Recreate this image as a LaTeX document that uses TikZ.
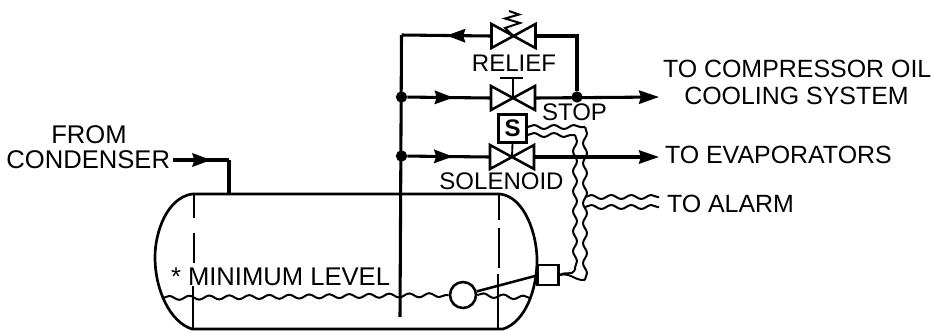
\documentclass[tikz,border=0pt]{standalone}
\usepackage{fontspec}
\setmainfont{Liberation Sans}
\usetikzlibrary{arrows.meta,decorations.pathmorphing,decorations.markings}
\tikzset{
  pipe/.style={line width=2.3pt,black},
  shell/.style={line width=2pt,black},
  thin line/.style={line width=1.4pt,black},
  wire/.style={line width=1.5pt,black,decorate,decoration={snake,segment length=15pt,amplitude=1.5pt,pre length=0pt,post length=0pt}},
  valvebox/.style={minimum width=33pt,minimum height=18pt,inner sep=0pt,outer sep=0pt},
  label/.style={inner sep=0pt,outer sep=0pt,font=\fontsize{18.7pt}{18.7pt}\selectfont},
  smalllabel/.style={inner sep=0pt,outer sep=0pt,font=\fontsize{18pt}{18pt}\selectfont},
  widelabel/.style={inner sep=0pt,outer sep=0pt,font=\fontsize{19.2pt}{19.2pt}\selectfont},
  bigtip/.style={-{Stealth[length=15pt,width=10pt,inset=1.5pt]}},
  midtip/.style={postaction={decorate},decoration={markings,mark=at position #1 with {\arrow{Stealth[length=14pt,width=10pt,inset=1.5pt]}}}},
  junction/.style={circle,fill=black,inner sep=0pt,minimum size=8.5pt},
}
\newcommand{\valveshape}[1]{\draw[line width=1.9pt,line join=miter] (#1.north west)--(#1.south east)--(#1.north east)--(#1.south west)--cycle;}
\begin{document}
\begin{tikzpicture}[x=0.75pt,y=-0.75pt]
\useasboundingbox (0,0) rectangle (932,330);
% tank
\draw[shell] (192,194) -- (500,194)
  .. controls (525,197) and (537,235) .. (537,260)
  .. controls (537,290) and (525,322) .. (503,329)
  -- (192,329)
  .. controls (170,322) and (155,290) .. (155,257)
  .. controls (155,232) and (167,198) .. (192,194);
\foreach \xx/\ya/\yb in {194/194/218,194/233/263,193/286/329,499/194/220,499/228/268,498/274/329}
  \draw[thin line] (\xx,\ya) -- (\xx,\yb);
% nodes
\node[valvebox] (relief) at (513.5,36) {};
\node[valvebox] (stop) at (513,98) {};
\node[valvebox] (sol) at (512,157) {};
\node[junction] (j1) at (401.5,97) {};
\node[junction] (j2) at (401.5,156) {};
\node[junction] (j3) at (577,97) {};
\coordinate (topcorner) at (401.5,35);
\coordinate (rcorner) at (577,36);
\coordinate (pipebot) at (400,317);
\coordinate (stopend) at (659,97);
\coordinate (solend) at (659,157);
\node[draw,line width=1.8pt,minimum width=21pt,minimum height=21pt,inner sep=0pt,font=\fontsize{18pt}{18pt}\bfseries\selectfont] (sbox) at (512.5,128.5) {S};
\node[draw,line width=1.9pt,minimum width=16pt,minimum height=15pt,inner sep=0pt] (switch) at (548,275) {};
\node[draw,circle,line width=1.9pt,minimum size=19.5pt,inner sep=0pt] (float) at (463,295) {};
\coordinate (armend) at (535,276);
% pipes
\draw[pipe] (pipebot) -- (topcorner);
\draw[pipe] (relief.east) -- (rcorner) -- (j3);
\valveshape{relief}
\draw[pipe,midtip=0.5] (relief.west) -- (topcorner);
\draw[pipe,midtip=0.55] (j1) -- (stop.west);
\draw[pipe,bigtip] (stop.east) -- (stopend);
\draw[pipe,midtip=0.55] (j2) -- (sol.west);
\draw[pipe,bigtip] (sol.east) -- (solend);
\valveshape{stop}
\valveshape{sol}
% stems
\coordinate (tbarL) at (500,78);
\coordinate (tbarR) at (523,78);
\draw[thin line] (stop.center) -- (513,78);
\draw[line width=1.7pt] (tbarL) -- (tbarR);
\draw[thin line] (sol.center) -- (sbox.south);
\draw[line width=1.5pt,line join=miter] (relief.center) -- (505,28) -- (520,23) -- (505,18.5) -- (519,14.5) -- (509,11);
% inlet
\coordinate (inA) at (173,160);
\coordinate (inB) at (229,160);
\coordinate (inC) at (229,194);
\draw[pipe] (inB) -- (inC);
\draw[pipe,midtip=0.68,line join=miter] (inA) -- (inB);
% float and level
\draw[line width=1.9pt] (float) -- (armend);
\coordinate (lvlA) at (163,298);
\coordinate (lvlB) at (530,298);
\draw[wire] (lvlA) -- (float.west);
\draw[wire] (float.east) -- (lvlB);
% control wires
\coordinate (oTop) at (585,127);
\coordinate (oBot) at (585,280);
\coordinate (iTop) at (575,135);
\coordinate (iBot) at (575,270);
\draw[wire] (sbox.east |- 0,127) -- (oTop);
\draw[wire] (sbox.east |- 0,135) -- (iTop);
\draw[wire] (oTop) -- (oBot);
\draw[wire] (iTop) -- (iBot);
\draw[line width=1.5pt] (oBot) .. controls (575,281) and (570,272) .. (switch.east);
\draw[line width=1.5pt] (iBot) .. controls (572,276) and (566,271) .. (switch.east);
\coordinate (a1) at (659,197);
\coordinate (a2) at (659,207);
\draw[wire] (585,197) -- (a1);
\draw[wire] (585,207) -- (a2);
% labels
\node[smalllabel] (lrelief) at (514,63) {RELIEF};
\node[smalllabel] (lstop) at (574.5,112) {STOP};
\node[smalllabel] (lsol) at (501.5,181) {SOLENOID};
\node[label,anchor=west] (lcomp) at (663,69) {TO COMPRESSOR OIL};
\node[label] (lcool) at (796.5,96) {COOLING SYSTEM};
\node[label,anchor=west] (levap) at (665,155) {TO EVAPORATORS};
\node[label,anchor=west] (lalarm) at (667,204) {TO ALARM};
\node[widelabel] (lfrom) at (89,135) {FROM};
\node[widelabel,anchor=east] (lcond) at (170,160) {CONDENSER};
\node[widelabel,anchor=west] (lmin) at (171,277) {* MINIMUM LEVEL};
\end{tikzpicture}
\end{document}
